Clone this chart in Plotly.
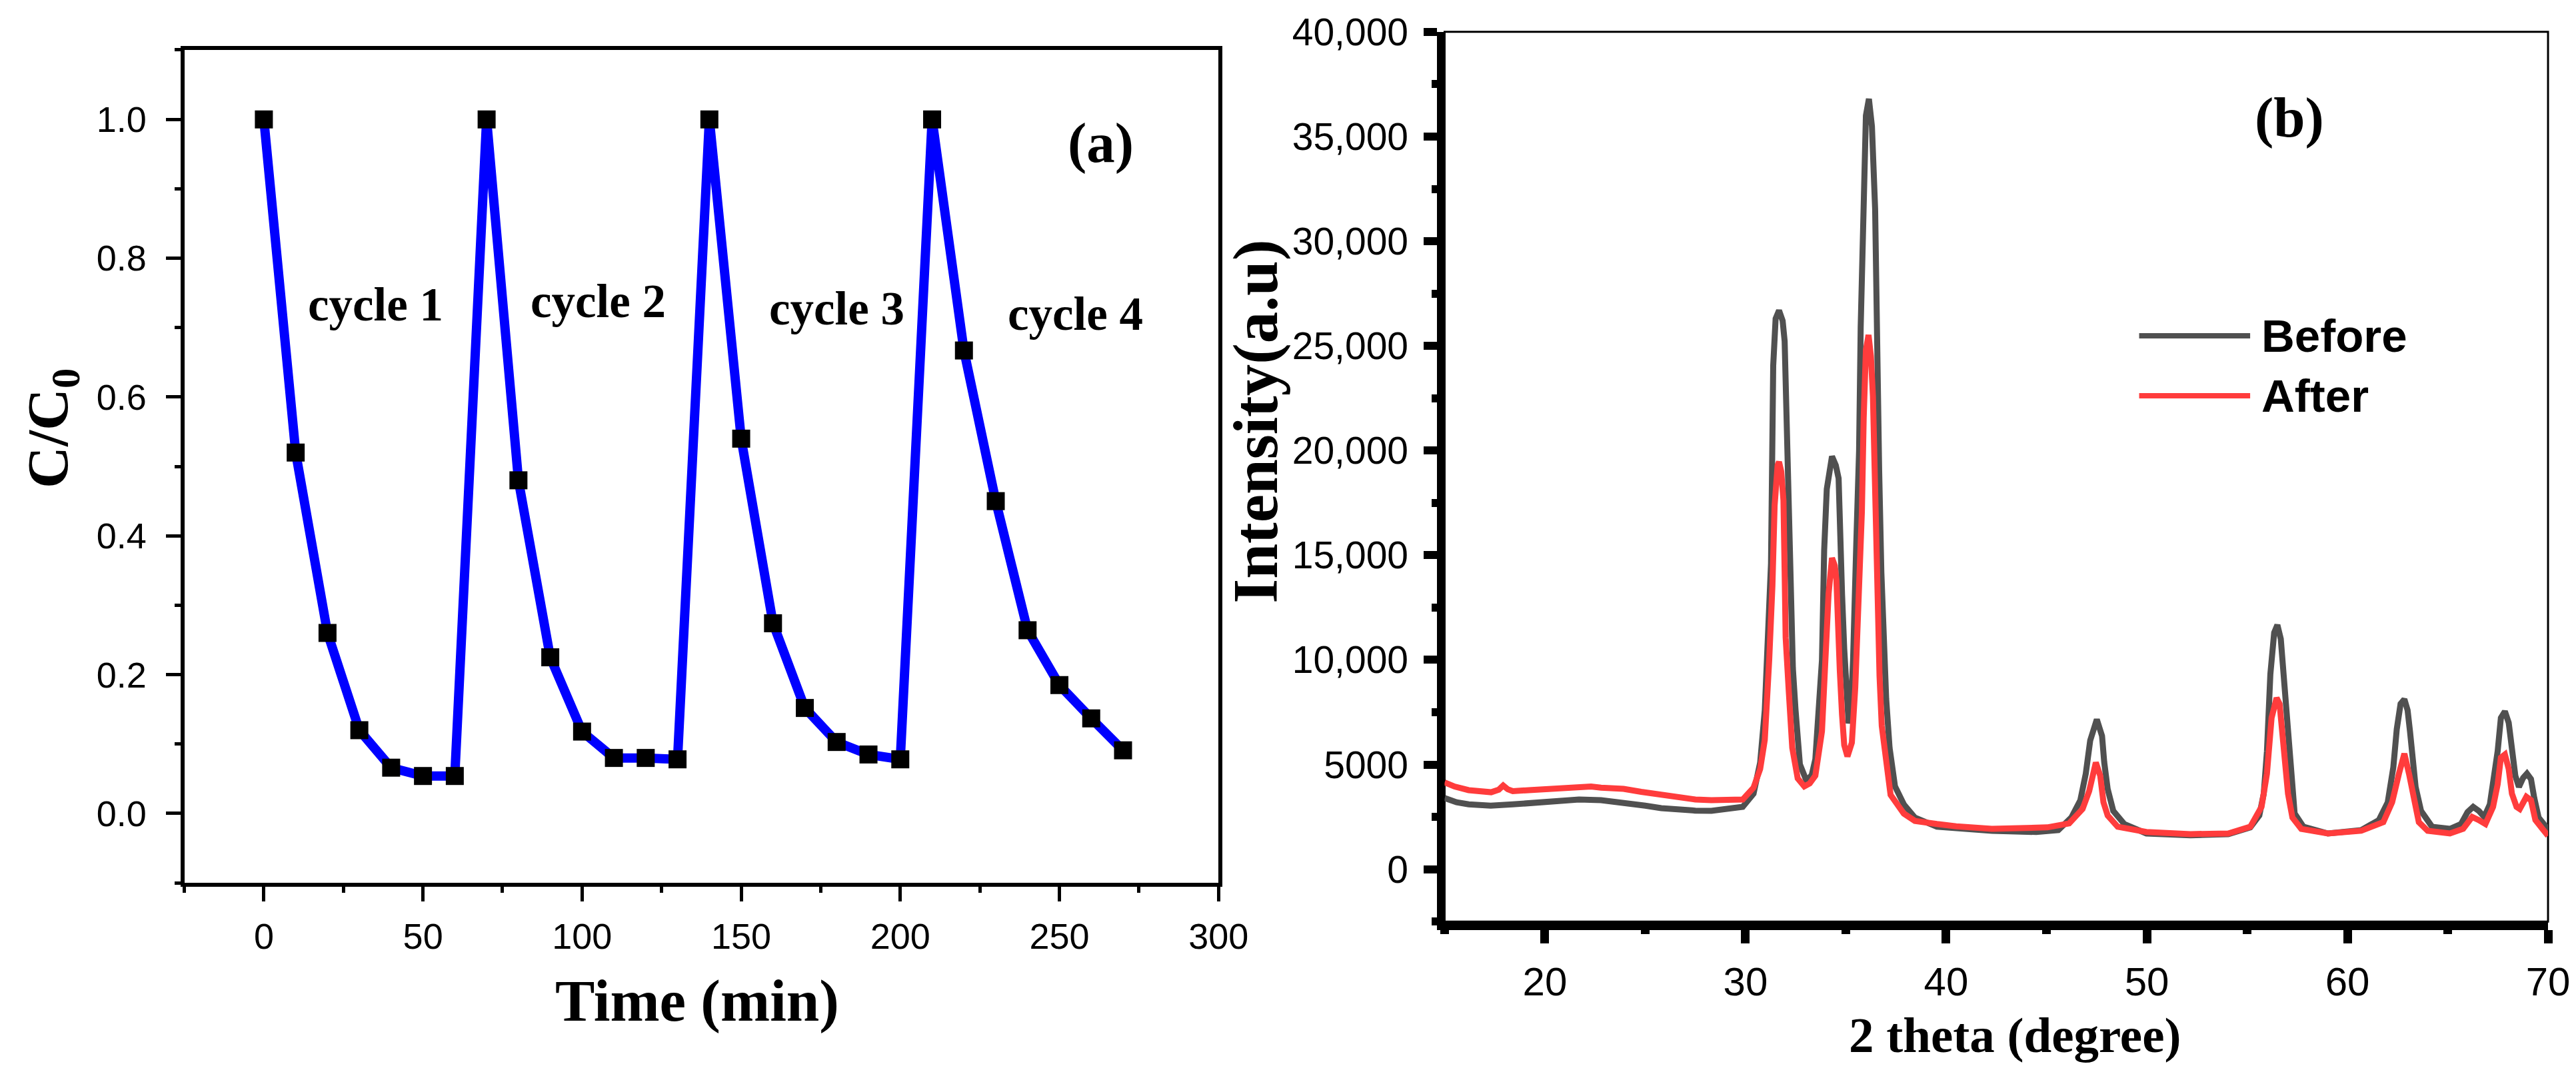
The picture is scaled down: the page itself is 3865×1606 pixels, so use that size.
import plotly.graph_objects as go

# ---- panel (a): photocatalytic cycles ----
time_min = [0, 10, 20, 30, 40, 50, 60, 70, 80, 90, 100, 110, 120, 130,
            140, 150, 160, 170, 180, 190, 200, 210, 220, 230, 240, 250, 260, 270]
c_ratio = [1.0, 0.52, 0.26, 0.12, 0.066, 0.054, 0.054,
           1.0, 0.48, 0.225, 0.118, 0.08, 0.08, 0.078,
           1.0, 0.54, 0.274, 0.152, 0.103, 0.085, 0.078,
           1.0, 0.667, 0.45, 0.264, 0.185, 0.137, 0.091]
cycle_labels = ["cycle 1", "cycle 2", "cycle 3", "cycle 4"]
cycle_x = [35, 105, 180, 255]
cycle_y = [0.733, 0.738, 0.728, 0.72]

# ---- panel (b): XRD before / after ----
theta_before = [15.0, 15.6, 16.2, 17.3, 18.4, 19.5, 20.6, 21.7, 22.8, 23.9, 25.0, 25.8,
                26.7, 27.5, 28.3, 29.3, 29.86, 30.4, 30.73, 30.96, 31.12, 31.27, 31.38,
                31.5, 31.67, 31.85, 31.95, 32.05, 32.14, 32.25, 32.36, 32.49, 32.71,
                33.04, 33.3, 33.48, 33.65, 33.81, 33.92, 34.05, 34.31, 34.5, 34.64,
                34.7, 34.81, 34.92, 35.03, 35.14, 35.25, 35.36, 35.52, 35.66, 35.74,
                35.87, 36.0, 36.15, 36.3, 36.46, 36.55, 36.66, 36.77, 36.88, 37.01,
                37.18, 37.45, 37.89, 38.44, 39.54, 40.5, 42.28, 44.49, 45.59, 46.24,
                46.69, 46.96, 47.18, 47.51, 47.77, 47.88, 48.05, 48.33, 48.88, 49.98,
                52.18, 54.06, 55.16, 55.61, 55.83, 55.99, 56.16, 56.35, 56.51, 56.68,
                56.82, 56.93, 57.04, 57.21, 57.37, 57.81, 59.03, 60.69, 61.57, 62.01,
                62.29, 62.46, 62.65, 62.84, 63.0, 63.12, 63.23, 63.4, 63.67, 64.22,
                65.11, 65.66, 65.99, 66.27, 66.55, 66.82, 67.1, 67.32, 67.49, 67.65,
                67.85, 68.04, 68.2, 68.37, 68.55, 68.76, 68.95, 69.15, 69.31, 69.53,
                69.98, 70.0]
int_before = [3400, 3200, 3100, 3040, 3100, 3200, 3280, 3330, 3300, 3200, 3040, 2920,
              2820, 2800, 2790, 2950, 2980, 3610, 5100, 7600, 10940, 14600, 24060,
              26300, 26690, 26200, 25230, 21300, 16580, 12490, 9600, 7640, 5010,
              4220, 4500, 5260, 7510, 9990, 15250, 18160, 19720, 19300, 18670,
              15910, 13160, 10520, 8430, 6970, 7600, 9990, 15530, 20000, 25900,
              32080, 36000, 36800, 35500, 31540, 24730, 19080, 14200, 10780, 8150,
              5800, 3960, 3100, 2470, 2030, 1950, 1840, 1780, 1870, 2470,
              3300, 4570, 6150, 7160, 6370, 5100, 3840, 2790, 2160, 1710,
              1620, 1680, 2000, 2570, 3610, 5640, 9320, 11300, 11670, 11000,
              9320, 7540, 5830, 4060, 2660, 2030, 1710, 1870, 2350, 3200,
              4880, 6690, 7900, 8120, 7600, 6590, 5330, 3930, 2790, 2030,
              1930, 2160, 2730, 2980, 2790, 2500, 3100, 4470, 5640, 7230,
              7540, 7000, 5640, 4470, 3930, 4370, 4570, 4310, 3420, 2470,
              1930, 1650]

theta_after = [15.0, 15.5, 16.2, 17.32, 17.7, 17.92, 18.15, 18.4, 19.2, 20.06, 21.0,
               21.7, 22.3, 22.8, 23.92, 24.8, 25.57, 26.67, 27.5, 28.3, 29.31, 29.86,
               30.4, 30.73, 30.96, 31.06, 31.18, 31.34, 31.45, 31.6, 31.67, 31.78,
               31.89, 31.95, 32.0, 32.16, 32.33, 32.6, 32.93, 33.2, 33.48, 33.81,
               33.98, 34.14, 34.31, 34.45, 34.53, 34.59, 34.7, 34.81, 34.92, 35.08,
               35.3, 35.47, 35.63, 35.8, 35.89, 36.0, 36.13, 36.25, 36.35, 36.4,
               36.51, 36.57, 36.68, 36.79, 37.01, 37.23, 37.89, 38.44, 39.54, 40.5,
               42.28, 45.04, 46.13, 46.8, 47.13, 47.29, 47.46, 47.68, 47.84, 48.05,
               48.55, 49.98, 52.18, 54.06, 55.16, 55.72, 55.99, 56.22, 56.47, 56.62,
               56.76, 56.87, 57.04, 57.26, 57.7, 59.03, 60.69, 61.79, 62.23, 62.57,
               62.84, 63.07, 63.29, 63.56, 64.0, 65.11, 65.77, 66.22, 66.55, 66.88,
               67.26, 67.49, 67.65, 67.85, 68.04, 68.2, 68.43, 68.59, 68.92, 69.15,
               69.37, 69.98, 70.0]
int_after = [4150, 3950, 3780, 3680, 3800, 4000, 3820, 3730, 3780, 3840, 3900,
             3940, 3950, 3900, 3840, 3700, 3580, 3420, 3330, 3300, 3300, 3330,
             3900, 4790, 6180, 7500, 9990, 13540, 17370, 19300, 19460, 19000,
             17620, 14200, 11060, 8430, 5800, 4340, 3960, 4100, 4470, 6590,
             10520, 13160, 14870, 14500, 13820, 11860, 9480, 7390, 5930, 5390,
             6050, 8690, 12110, 17090, 21560, 24800, 25520, 24500, 22600, 20000,
             15250, 11570, 9220, 6850, 4880, 3550, 2660, 2310, 2160, 2050,
             1930, 2000, 2190, 2880, 3740, 4570, 5100, 4470, 3200, 2570,
             2030, 1780, 1680, 1710, 2030, 2980, 4570, 7230, 8180, 7900,
             6590, 5100, 3610, 2470, 1930, 1710, 1840, 2250, 3200, 4570,
             5520, 4570, 3420, 2250, 1840, 1710, 1930, 2500, 2350, 2160,
             2980, 4060, 5330, 5480, 4790, 3610, 2980, 2880, 3460, 3300,
             2350, 1680, 1600]

b_tickvals = [0, 5000, 10000, 15000, 20000, 25000, 30000, 35000, 40000]
b_ticktext = ["0", "5000", "10,000", "15,000", "20,000", "25,000", "30,000", "35,000", "40,000"]
legend_names = ["Before", "After"]
legend_colors = ["#505050", "#ff3c3c"]

SANS = "Liberation Sans"
SERIF = "Liberation Serif"

fig = go.Figure()

fig.add_trace(go.Scatter(
    x=time_min, y=c_ratio, mode="lines+markers",
    line=dict(color="#0000ff", width=14),
    marker=dict(symbol="square", size=27, color="black"),
    xaxis="x", yaxis="y", showlegend=False))

fig.add_trace(go.Scatter(
    x=theta_before, y=int_before, mode="lines", name=legend_names[0],
    line=dict(color=legend_colors[0], width=9),
    xaxis="x2", yaxis="y2", showlegend=False))
fig.add_trace(go.Scatter(
    x=theta_after, y=int_after, mode="lines", name=legend_names[1],
    line=dict(color=legend_colors[1], width=9),
    xaxis="x2", yaxis="y2", showlegend=False))

common = dict(showgrid=False, zeroline=False, showline=True, linecolor="black",
              ticks="outside", tickcolor="black", ticklabeloverflow="allow")

fig.update_layout(
    width=3865, height=1606,
    margin=dict(l=0, r=0, t=0, b=0),
    paper_bgcolor="white", plot_bgcolor="white",
    xaxis=dict(common, domain=[0.0703, 0.4765], range=[-25, 300],
               tick0=0, dtick=50, linewidth=6, mirror=True,
               ticklen=22, tickwidth=5, ticklabelstandoff=6,
               tickfont=dict(family=SANS, size=54, color="black"),
               minor=dict(dtick=25, ticklen=9, tickwidth=5, ticks="outside", tickcolor="black"),
               anchor="y"),
    yaxis=dict(common, domain=[0.1835, 0.9778], range=[-0.1, 1.1],
               tick0=0, dtick=0.2, tickformat=".1f", linewidth=6, mirror=True,
               ticklen=22, tickwidth=5, ticklabelstandoff=18,
               tickfont=dict(family=SANS, size=54, color="black"),
               minor=dict(dtick=0.1, ticklen=9, tickwidth=5, ticks="outside", tickcolor="black"),
               anchor="x"),
    xaxis2=dict(common, domain=[0.5653, 0.9987], range=[15, 70],
                tick0=0, dtick=10, linewidth=13,
                ticklen=20, tickwidth=13, ticklabelstandoff=6,
                tickfont=dict(family=SANS, size=60, color="black"),
                minor=dict(dtick=5, ticklen=6, tickwidth=13, ticks="outside", tickcolor="black"),
                anchor="y2"),
    yaxis2=dict(common, domain=[0.1466, 0.9950], range=[-2500, 40000],
                tickvals=b_tickvals, ticktext=b_ticktext, linewidth=11,
                ticklen=20, tickwidth=12, ticklabelstandoff=12,
                tickfont=dict(family=SANS, size=57, color="black"),
                minor=dict(dtick=2500, tick0=0, ticklen=8, tickwidth=12, ticks="outside",
                           tickcolor="black"),
                anchor="x2"),
)

# thin frame on top/right of panel (b)
fig.add_shape(type="rect", xref="x2 domain", yref="y2 domain", x0=0, x1=1, y0=0, y1=1,
              line=dict(color="black", width=3), layer="below")

ann = []
for lab, cx, cy in zip(cycle_labels, cycle_x, cycle_y):
    ann.append(dict(x=cx, y=cy, xref="x", yref="y", text="<b>" + lab + "</b>",
                    xanchor="center", yanchor="middle", showarrow=False,
                    font=dict(family=SERIF, size=71, color="black")))
ann.append(dict(x=263, y=0.966, xref="x", yref="y", text="<b>(a)</b>", showarrow=False,
                xanchor="center", yanchor="middle",
                font=dict(family=SERIF, size=85, color="black")))
ann.append(dict(x=57.1, y=35900, xref="x2", yref="y2", text="<b>(b)</b>", showarrow=False,
                xanchor="center", yanchor="middle",
                font=dict(family=SERIF, size=85, color="black")))

# axis titles (placed by hand, centred)
titles = [
    ("<b>C/C<sub>0</sub></b>", 0.0183, 0.6169, -90, 87),
    ("<b>Time (min)</b>", 0.2717, 0.0710, 0, 89),
    ("<b>Intensity(a.u)</b>", 0.4910, 0.6232, -90, 95),
    ("<b>2 theta (degree)</b>", 0.7892, 0.0386, 0, 75),
]
for txt, tx, ty, ang, sz in titles:
    ann.append(dict(x=tx, y=ty, xref="paper", yref="paper", text=txt, textangle=ang,
                    xanchor="center", yanchor="middle", showarrow=False,
                    font=dict(family=SERIF, size=sz, color="black")))

# legend drawn by hand: long line samples like the original
leg_y = [0.7052, 0.6480]
for name, col, ly in zip(legend_names, legend_colors, leg_y):
    fig.add_shape(type="line", xref="paper", yref="paper", x0=0.8381, x1=0.8817,
                  y0=ly, y1=ly, line=dict(color=col, width=8))
    ann.append(dict(x=0.8856, y=ly, xref="paper", yref="paper", xanchor="left",
                    yanchor="middle", text="<b>" + name + "</b>", showarrow=False,
                    font=dict(family=SANS, size=69, color="black")))

fig.update_layout(annotations=ann)

fig.write_html("out.html")
